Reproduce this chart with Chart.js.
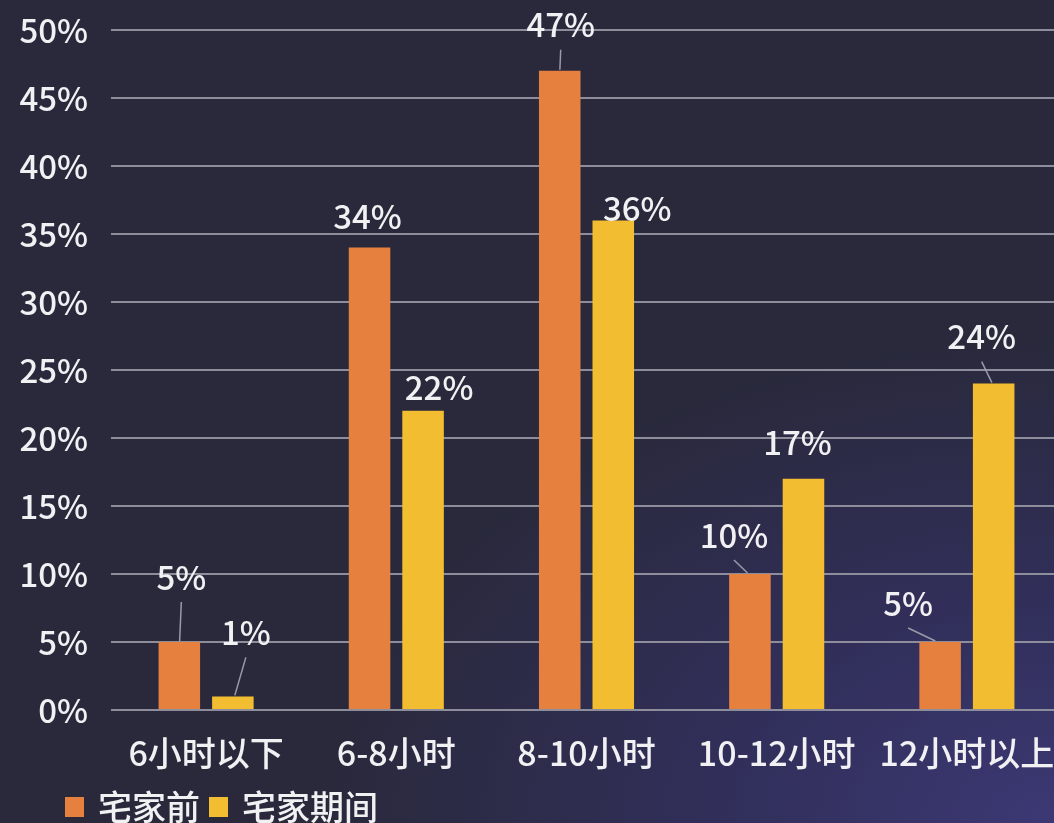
<!DOCTYPE html>
<html lang="zh-CN">
<head>
<meta charset="utf-8">
<title>时长分布</title>
<script src="https://cdn.jsdelivr.net/npm/chart.js@4.4.1/dist/chart.umd.min.js"></script>
<style>
  html, body {
    margin: 0;
    padding: 0;
    width: 1054px;
    height: 823px;
    overflow: hidden;
  }
  body {
    background:
      radial-gradient(ellipse 70% 60% at 100% 100%, #3c3874 0%, #312f5a 45%, rgba(41, 41, 60, 0) 100%),
      #29293b;
  }
  canvas { display: block; }
</style>
</head>
<body>
<canvas id="hoursChart" width="1062" height="823"></canvas>
<script>
  const categories = ['6小时以下', '6-8小时', '8-10小时', '10-12小时', '12小时以上'];
  const beforeHome = [5, 34, 47, 10, 5];
  const duringHome = [1, 22, 36, 17, 24];
  const seriesNames = ['宅家前', '宅家期间'];
  const yMin = 0;
  const yMax = 50;
  const yStep = 5;

  const FONT = '"Noto Sans CJK SC", "Noto Sans", sans-serif';
  const TEXT = '#f1f1f4';
  const GRID = '#8d8d9c';
  const COLORS = ['#e5803f', '#f3bd31'];

  // where each value label sits, relative to the top centre of its bar: [dx, dy, draw leader line]
  const labelPlacement = [
    [[2, -65, true], [-2, -31, false], [1, -46, true], [-16, -39, true], [-32, -39, true]],
    [[13, -64, true], [16, -23, false], [24, -12, false], [-6, -36, false], [-12, -47, true]]
  ];

  const barLabels = {
    id: 'barLabels',
    afterDatasetsDraw(chart) {
      const ctx = chart.ctx;
      ctx.save();
      ctx.font = '500 33px ' + FONT;
      ctx.textAlign = 'center';
      ctx.textBaseline = 'middle';
      chart.data.datasets.forEach(function (ds, di) {
        chart.getDatasetMeta(di).data.forEach(function (bar, i) {
          const p = labelPlacement[di][i];
          const lx = bar.x + p[0];
          const ly = bar.y + p[1];
          if (p[2]) {
            ctx.strokeStyle = '#9a9aa8';
            ctx.lineWidth = 1.5;
            ctx.beginPath();
            ctx.moveTo(lx, ly + 25);
            ctx.lineTo(bar.x + p[0] * 0.15, bar.y - 1);
            ctx.stroke();
          }
          ctx.fillStyle = TEXT;
          ctx.fillText(ds.data[i] + '%', lx, ly);
        });
      });
      ctx.restore();
    }
  };

  // small legend in the lower left corner
  const cornerLegend = {
    id: 'cornerLegend',
    afterDraw(chart) {
      const ctx = chart.ctx;
      ctx.save();
      ctx.font = '500 34px ' + FONT;
      ctx.textBaseline = 'middle';
      let x = 65;
      const y = 807;
      chart.data.datasets.forEach(function (ds) {
        ctx.fillStyle = ds.backgroundColor;
        ctx.fillRect(x, y - 10, 19, 20);
        x += 19 + 14;
        ctx.fillStyle = TEXT;
        ctx.fillText(ds.label, x, y);
        x += ctx.measureText(ds.label).width + 9;
      });
      ctx.restore();
    }
  };

  new Chart(document.getElementById('hoursChart'), {
    type: 'bar',
    data: {
      labels: categories,
      datasets: [
        { label: seriesNames[0], data: beforeHome, backgroundColor: COLORS[0] },
        { label: seriesNames[1], data: duringHome, backgroundColor: COLORS[1] }
      ]
    },
    options: {
      responsive: false,
      animation: false,
      layout: { padding: { top: 30, left: 0, right: 0, bottom: 43 } },
      datasets: { bar: { categoryPercentage: 0.563, barPercentage: 0.776 } },
      plugins: {
        legend: { display: false },
        tooltip: { enabled: false }
      },
      scales: {
        x: {
          grid: { display: false, drawTicks: false },
          border: { display: false },
          ticks: {
            color: TEXT,
            font: { family: FONT, size: 34, weight: '500' },
            padding: 23,
            maxRotation: 0,
            autoSkip: false
          },
          afterFit: function (scale) {
            scale.height = 70;
            scale.paddingLeft = 0;
            scale.paddingRight = 0;
          }
        },
        y: {
          min: yMin,
          max: yMax,
          grid: { color: GRID, lineWidth: 2, drawTicks: false },
          border: { display: false },
          ticks: {
            stepSize: yStep,
            color: TEXT,
            font: { family: FONT, size: 33, weight: '500' },
            padding: 23,
            callback: function (v) { return v + '%'; }
          },
          afterFit: function (scale) {
            scale.width = 111;
            scale.paddingTop = 0;
            scale.paddingBottom = 0;
          }
        }
      }
    },
    plugins: [barLabels, cornerLegend]
  });
</script>
</body>
</html>
